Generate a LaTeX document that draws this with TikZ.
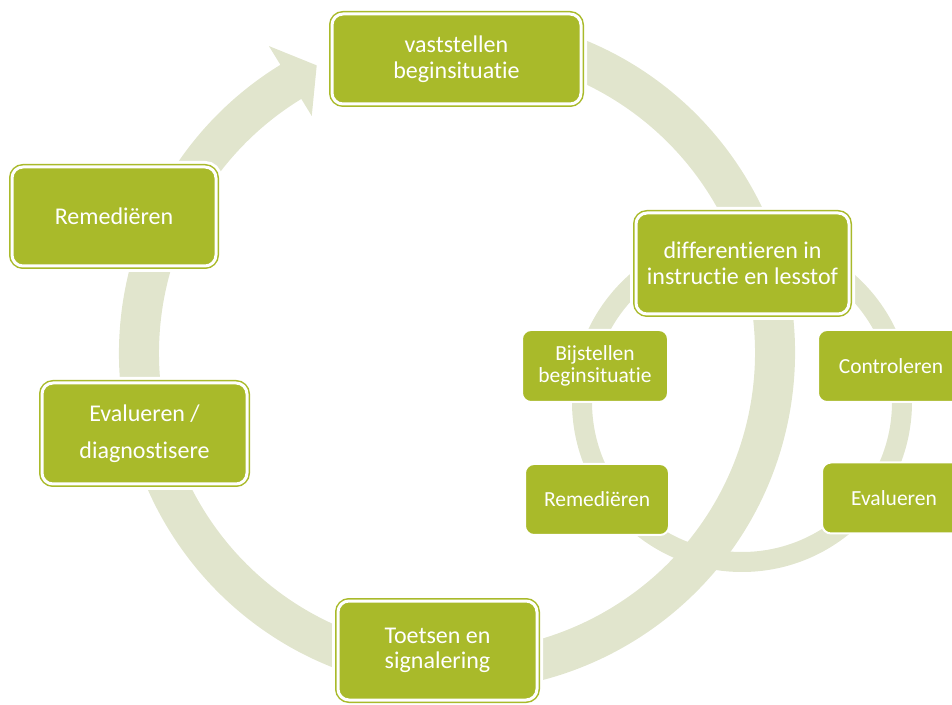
\documentclass[tikz,border=0pt]{standalone}
\usepackage{fontspec}
\setmainfont{Carlito}[Ligatures={NoCommon}]
\definecolor{leaf}{HTML}{A9BA2A}
\definecolor{band}{HTML}{E1E5CD}
\begin{document}
\begin{tikzpicture}[x=1pt,y=1pt,
  bigbox/.style={rectangle, rounded corners=11pt, fill=leaf, draw=leaf,
    line width=1.5pt, double=white, double distance=3pt,
    preaction={draw=white, line width=12pt},
    text=white, align=center, inner sep=0pt,
    font=\fontsize{24}{25.5}\selectfont},
  smallbox/.style={rectangle, rounded corners=9pt, fill=leaf, draw=white,
    line width=2pt, text=white, align=center, inner sep=0pt,
    minimum width=146pt, minimum height=72pt,
    font=\fontsize{21.5}{22}\selectfont}]
\useasboundingbox (0,0) rectangle (952,704);
\clip (0,0) rectangle (952,704);
% big circular arrow band
\begin{scope}[shift={(457,351)}]
  \fill[band] (80:338) arc[start angle=80, end angle=-238.5, radius=338]
    -- (-238.5:360) -- (-244:320) -- (-238.5:278) -- (-238.5:298)
    arc[start angle=-238.5, end angle=80, radius=298] -- cycle;
\end{scope}
% inner cycle ring
\draw[band, line width=20pt] (742,302) circle[radius=160];
% big boxes
\node[bigbox, minimum width=249pt, minimum height=90pt] (top) at (456.5,645)
  {vaststellen\\beginsituatie};
\node[bigbox, minimum width=213pt, minimum height=101pt] (diff) at (742.5,440.5)
  {differentieren in\\instructie en lesstof};
\node[bigbox, minimum width=204pt, minimum height=99pt] (reml) at (114,487.5)
  {Remediëren};
\node[bigbox, minimum width=205pt, minimum height=101pt] (eval) at (144.5,270.5)
  {Evalueren /\\[11pt]diagnostisere};
\node[bigbox, minimum width=199pt, minimum height=99pt] (toets) at (437.5,53.5)
  {Toetsen en\\signalering};
% small boxes
\node[smallbox] (bij) at (595,338) {Bijstellen\\beginsituatie};
\node[smallbox] (con) at (891,338) {Controleren};
\node[smallbox, minimum width=144pt, minimum height=71pt] (rems) at (597,204.5) {Remediëren};
\node[smallbox, minimum width=144pt, minimum height=71pt] (evs) at (894,206) {Evalueren};
\end{tikzpicture}
\end{document}
